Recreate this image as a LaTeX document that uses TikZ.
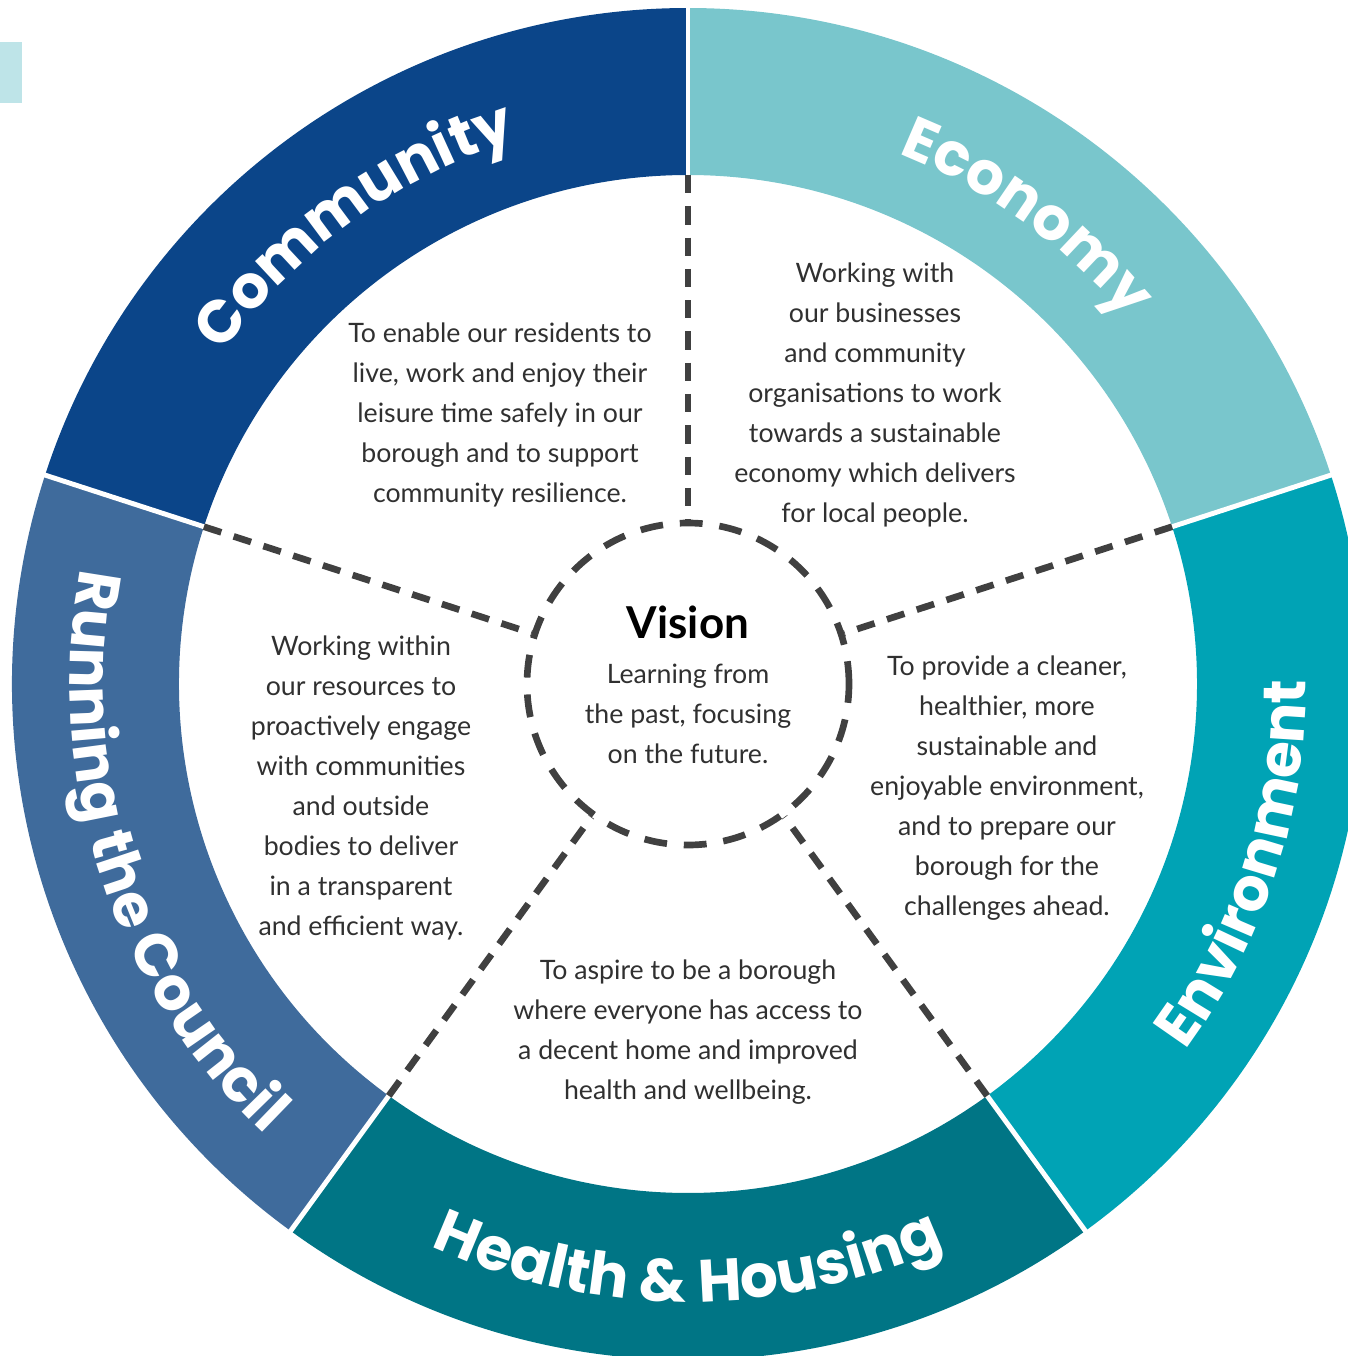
\documentclass[tikz,border=0pt]{standalone}
\usepackage{fontspec}
\setmainfont{Lato}
\newfontfamily\headfont{Poppins}
\usetikzlibrary{decorations.text}
\definecolor{community}{HTML}{0B4589}
\definecolor{economy}{HTML}{79C6CC}
\definecolor{environment}{HTML}{00A3B5}
\definecolor{health}{HTML}{007585}
\definecolor{running}{HTML}{3F6B9C}
\definecolor{tab}{HTML}{BEE4E8}
\definecolor{dashgray}{HTML}{404040}
\definecolor{bodytext}{HTML}{303030}
\newcommand{\headsize}{\headfont\bfseries\fontsize{17}{17}\selectfont}

\begin{document}
\begin{tikzpicture}[
    aim/.style={align=center, inner sep=0pt, text=bodytext,
      font=\fontsize{7.6}{11.4}\selectfont},
    dashline/.style={dashgray, line width=1.9pt, dash pattern=on 5.2pt off 3.7pt},
    heading/.style={decorate, decoration={text along path, text align=center,
      text color=white, text={|\headsize|#1}}}
  ]
    \def\R{6.76}
    \def\r{5.09}
    \def\hin{5.71}
    \def\hout{6.18}

    \useasboundingbox (-6.88,-6.72) rectangle (6.60,6.84) ;
    \fill [tab] (-6.88,6.42) rectangle (-6.66,5.81) ;

    \foreach \a/\c in {90/community, 18/economy, -54/environment, -126/health, 162/running}
      \fill [\c] (\a:\r) -- (\a:\R) arc [start angle=\a, end angle={\a+72}, radius=\R]
      -- ({\a+72}:\r) arc [start angle={\a+72}, end angle=\a, radius=\r] -- cycle ;
    \foreach \a in {90,18,306,234,162}
      \draw [white, line width=1.4pt] (\a:4.9) -- (\a:7) ;

    \path [heading=Community] (162:\hin) arc [start angle=162, end angle=90, radius=\hin] ;
    \path [heading=Economy] (90:\hin) arc [start angle=90, end angle=18, radius=\hin] ;
    \path [heading=Environment] (-54:\hout) arc [start angle=-54, end angle=18, radius=\hout] ;
    \path [heading={Health {\&} Housing}] (-126:\hout) arc [start angle=-126, end angle=-54, radius=\hout] ;
    \path [heading=Running the Council] (162:\hout) arc [start angle=162, end angle=234, radius=\hout] ;

    \node (vision) [circle, draw=dashgray, line width=1.9pt, dash pattern=on 6.5pt off 4.8pt,
      minimum size=3.22cm, inner sep=0pt] at (0,0) {} ;
    \foreach \a in {90,18,306,234,162} {
      \coordinate (edge\a) at (\a:\r) ;
      \draw [dashline] (edge\a) -- (vision.\a) ;
    }

    \node (visiontitle) [font=\bfseries\fontsize{12.5}{14}\selectfont] at (0,0.62) {Vision} ;
    \node (visiontext) [aim] at (0,-0.30) {Learning from\\the past, focusing\\on the future.} ;

    \node (communitytext) [aim] at (-1.88,2.69) {To enable our residents to\\live, work and enjoy their\\leisure time safely in our\\borough and to support\\community resilience.} ;
    \node (economytext) [aim] at (1.87,2.89) {Working with\\our businesses\\and community\\organisations to work\\towards a sustainable\\economy which delivers\\for local people.} ;
    \node (environmenttext) [aim] at (3.19,-1.04) {To provide a cleaner,\\healthier, more\\sustainable and\\enjoyable environment,\\and to prepare our\\borough for the\\challenges ahead.} ;
    \node (healthtext) [aim] at (0,-3.48) {To aspire to be a borough\\where everyone has access to\\a decent home and improved\\health and wellbeing.} ;
    \node (runningtext) [aim] at (-3.27,-1.04) {Working within\\our resources to\\proactively engage\\with communities\\and outside\\bodies to deliver\\in a transparent\\and efficient way.} ;

\end{tikzpicture}
\end{document}
